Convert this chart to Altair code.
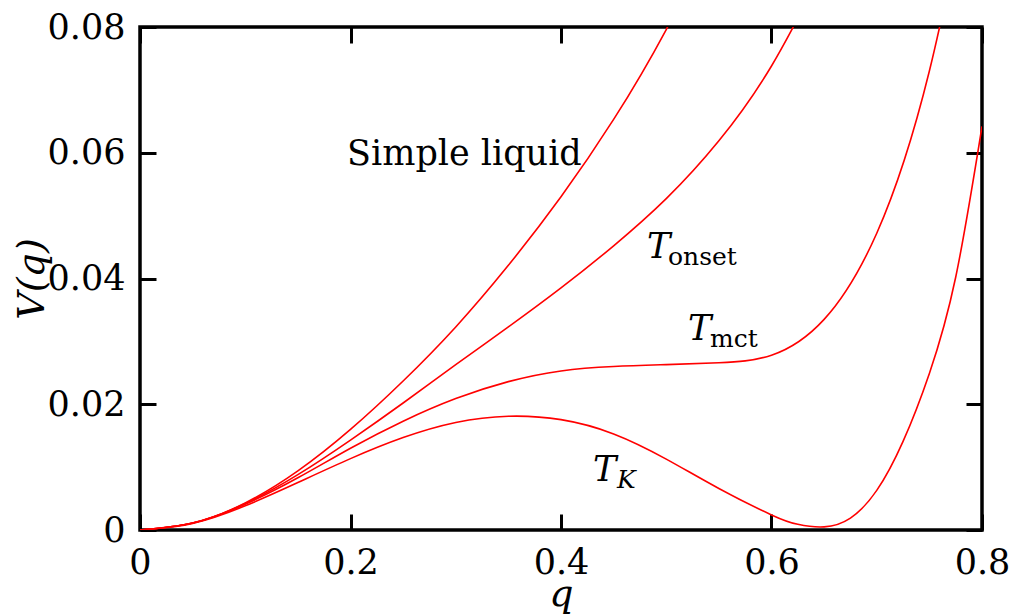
import altair as alt
import pandas as pd

# ---- curve data ----
q_simple = [0, 0.05, 0.1, 0.15, 0.2, 0.25, 0.3, 0.35, 0.4, 0.45, 0.5, 0.55]
v_simple = [0, 0.0011, 0.0043, 0.0094, 0.0160, 0.0237, 0.0323, 0.0421, 0.0530, 0.0653,
            0.0796, 0.0963]

q_onset = [0, 0.05, 0.1, 0.15, 0.2, 0.25, 0.3, 0.35, 0.4, 0.45, 0.5, 0.55, 0.6, 0.65]
v_onset = [0, 0.0011, 0.0042, 0.0088, 0.0143, 0.0202, 0.0263, 0.0323, 0.0385, 0.0452,
           0.0527, 0.0619, 0.0738, 0.0895]

q_mct = [0, 0.05, 0.1, 0.15, 0.2, 0.25, 0.3, 0.35, 0.4, 0.45, 0.5, 0.55, 0.6, 0.65,
         0.7, 0.75, 0.8]
v_mct = [0, 0.0011, 0.0041, 0.0083, 0.0130, 0.0173, 0.0209, 0.0236, 0.0253, 0.0260,
         0.0263, 0.0266, 0.0278, 0.0335, 0.0472, 0.0730, 0.1130]

q_k = [0, 0.05, 0.1, 0.15, 0.2, 0.25, 0.3, 0.35, 0.4, 0.45, 0.5, 0.55, 0.6, 0.625,
       0.65, 0.675, 0.7, 0.725, 0.75, 0.775, 0.8]
v_k = [0, 0.00105, 0.00385, 0.00755, 0.01135, 0.0147, 0.0171, 0.0181, 0.01755, 0.01528,
       0.01128, 0.0066, 0.0024, 0.0009, 0.0005, 0.0019, 0.0063, 0.0141, 0.0249, 0.0402,
       0.0642]

# ---- annotation texts (data coordinates) ----
lab_text = ["Simple liquid", "T", "onset", "T", "mct", "T", "K"]
lab_q = [0.1967, 0.4817, 0.5017, 0.5207, 0.5416, 0.4304, 0.4532]
lab_v = [0.0581, 0.0432, 0.0421, 0.0302, 0.0291, 0.0078, 0.0067]
lab_kind = ["main", "T", "sub", "T", "sub", "T", "subit"]

x_ticks = [0, 0.2, 0.4, 0.6, 0.8]
y_ticks = [0, 0.02, 0.04, 0.06, 0.08]

rows = []
for name, qs, vs in [("simple", q_simple, v_simple), ("onset", q_onset, v_onset),
                     ("mct", q_mct, v_mct), ("K", q_k, v_k)]:
    for a, b in zip(qs, vs):
        rows.append({"series": name, "q": a, "V": b})
lines_df = pd.DataFrame(rows)
labels_df = pd.DataFrame({"label": lab_text, "q": lab_q, "V": lab_v, "kind": lab_kind})

FONT = "DejaVu Serif"
FS = 35
FS_SUB = 25
xs = alt.Scale(domain=[0, 0.8], nice=False, zero=False)
ys = alt.Scale(domain=[0, 0.08], nice=False, zero=False)

common = dict(
    domain=False,
    grid=False,
    ticks=True,
    tickColor="black",
    tickWidth=3,
    tickSize=alt.ExprRef(expr="-16"),
    labelFont=FONT,
    labelFontSize=FS,
    labelColor="black",
    labelFlush=False,
    labelOverlap=False,
    titleFont=FONT,
    titleFontSize=38,
    titleFontWeight="normal",
    titleColor="black",
    titleFontStyle="italic",
)


def mk_axis(orient, vals, **kw):
    d = dict(common)
    d["values"] = vals
    d.update(kw)
    return alt.Axis(orient=orient, **d)


x_bottom = mk_axis("bottom", x_ticks, title="q", format="~g", labelPadding=31,
                   titleBaseline="alphabetic", titleY=75)
y_left = mk_axis("left", y_ticks, title="V(q)", format="~g", labelPadding=31,
                 titleBaseline="alphabetic", titleX=-97)
x_top = mk_axis("top", x_ticks, title="", labels=False)
y_right = mk_axis("right", y_ticks, title="", labels=False)

lines = alt.Chart(lines_df).mark_line(
    clip=True, color="#ff0000", strokeWidth=1.6, interpolate="natural"
).encode(
    x=alt.X("q:Q", scale=xs, axis=x_bottom),
    y=alt.Y("V:Q", scale=ys, axis=y_left),
    detail="series:N",
)

base_text = alt.Chart(labels_df)

main_txt = base_text.transform_filter("datum.kind == 'main'").mark_text(
    font=FONT, fontSize=FS, align="left", baseline="alphabetic", color="black"
).encode(
    x=alt.X("q:Q", scale=xs, axis=x_top),
    y=alt.Y("V:Q", scale=ys, axis=y_right),
    text="label:N",
)

t_txt = base_text.transform_filter("datum.kind == 'T'").mark_text(
    font=FONT, fontSize=FS, fontStyle="italic", align="left", baseline="alphabetic",
    color="black"
).encode(
    x=alt.X("q:Q", scale=xs, axis=None),
    y=alt.Y("V:Q", scale=ys, axis=None),
    text="label:N",
)

sub_txt = base_text.transform_filter("datum.kind == 'sub'").mark_text(
    font=FONT, fontSize=FS_SUB, align="left", baseline="alphabetic", color="black"
).encode(
    x=alt.X("q:Q", scale=xs, axis=None),
    y=alt.Y("V:Q", scale=ys, axis=None),
    text="label:N",
)

subit_txt = base_text.transform_filter("datum.kind == 'subit'").mark_text(
    font=FONT, fontSize=FS_SUB, fontStyle="italic", align="left", baseline="alphabetic",
    color="black"
).encode(
    x=alt.X("q:Q", scale=xs, axis=None),
    y=alt.Y("V:Q", scale=ys, axis=None),
    text="label:N",
)

chart = alt.layer(lines, main_txt, t_txt, sub_txt, subit_txt).resolve_axis(
    x="independent", y="independent"
).properties(
    width=842,
    height=503,
    padding={"left": 140, "top": 27, "right": 34, "bottom": 85},
    autosize=alt.AutoSizeParams(type="none"),
    background="white",
).configure_view(
    stroke="black", strokeWidth=3.5
)

chart.save("out.html", embed_options={"renderer": "svg", "actions": False})
